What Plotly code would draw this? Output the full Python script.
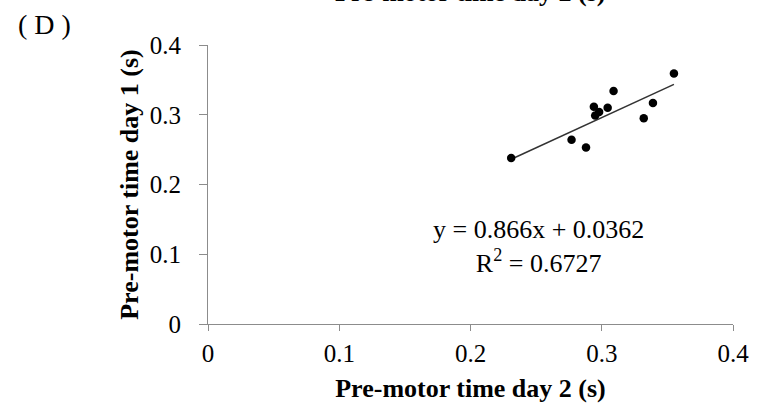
import plotly.graph_objects as go

# Data
day2 = [0.231, 0.277, 0.288, 0.294, 0.298, 0.295, 0.3045, 0.309, 0.332, 0.339, 0.355]
day1 = [0.238, 0.264, 0.253, 0.3115, 0.304, 0.299, 0.310, 0.334, 0.295, 0.317, 0.359]
slope = 0.866
intercept = 0.0362
r2 = 0.6727
tick_vals = [0, 0.1, 0.2, 0.3, 0.4]
tick_text = ["0", "0.1", "0.2", "0.3", "0.4"]

serif = "Liberation Serif, Times New Roman, serif"
axis_col = "#8c8c8c"

xmin, xmax = min(day2), max(day2)

fig = go.Figure()
fig.add_trace(go.Scatter(
    x=[xmin, xmax], y=[slope * xmin + intercept, slope * xmax + intercept],
    mode="lines", line=dict(color="#333333", width=1.5), showlegend=False))
fig.add_trace(go.Scatter(
    x=day2, y=day1, mode="markers",
    marker=dict(color="black", size=8.5), showlegend=False))

fig.update_layout(
    width=761, height=411,
    margin=dict(l=208, r=21, t=45, b=87),
    plot_bgcolor="white", paper_bgcolor="white",
    font=dict(family=serif, color="black", size=25),
    showlegend=False,
)
fig.update_xaxes(
    range=[0, 0.4], tickvals=tick_vals, ticktext=tick_text,
    showgrid=False, zeroline=False, showline=True, linecolor=axis_col, linewidth=1,
    ticks="outside", ticklen=6, tickcolor=axis_col,
    tickfont=dict(family=serif, size=25), ticklabelstandoff=1,
    title=dict(text="<b>Pre-motor time day 2 (s)</b>", font=dict(family=serif, size=26), standoff=12),
)
fig.update_yaxes(
    range=[0, 0.4], tickvals=tick_vals, ticktext=tick_text,
    showgrid=False, zeroline=False, showline=True, linecolor=axis_col, linewidth=1,
    ticks="outside", ticklen=8, tickcolor=axis_col,
    tickfont=dict(family=serif, size=25), ticklabelstandoff=13,
    title=dict(text="<b>Pre-motor time day 1 (s)</b>", font=dict(family=serif, size=26), standoff=3),
)

fig.add_annotation(
    x=0.252, y=(324 - 246) / 697.5, xref="x", yref="y",
    text=f"y = {slope}x + {intercept}<br>R<sup>2</sup> = {r2}",
    showarrow=False, align="center", font=dict(family=serif, size=26))
fig.add_annotation(
    x=-0.366, y=1.075, xref="paper", yref="paper", xanchor="left", yanchor="middle",
    text="( D )", showarrow=False, font=dict(family=serif, size=28))
fig.add_annotation(
    x=0.5, y=1.13, xref="paper", yref="paper", xanchor="center", yanchor="bottom",
    text="<b>Pre-motor time day 2 (s)</b>", showarrow=False, font=dict(family=serif, size=26))

fig.write_html("out.html")
